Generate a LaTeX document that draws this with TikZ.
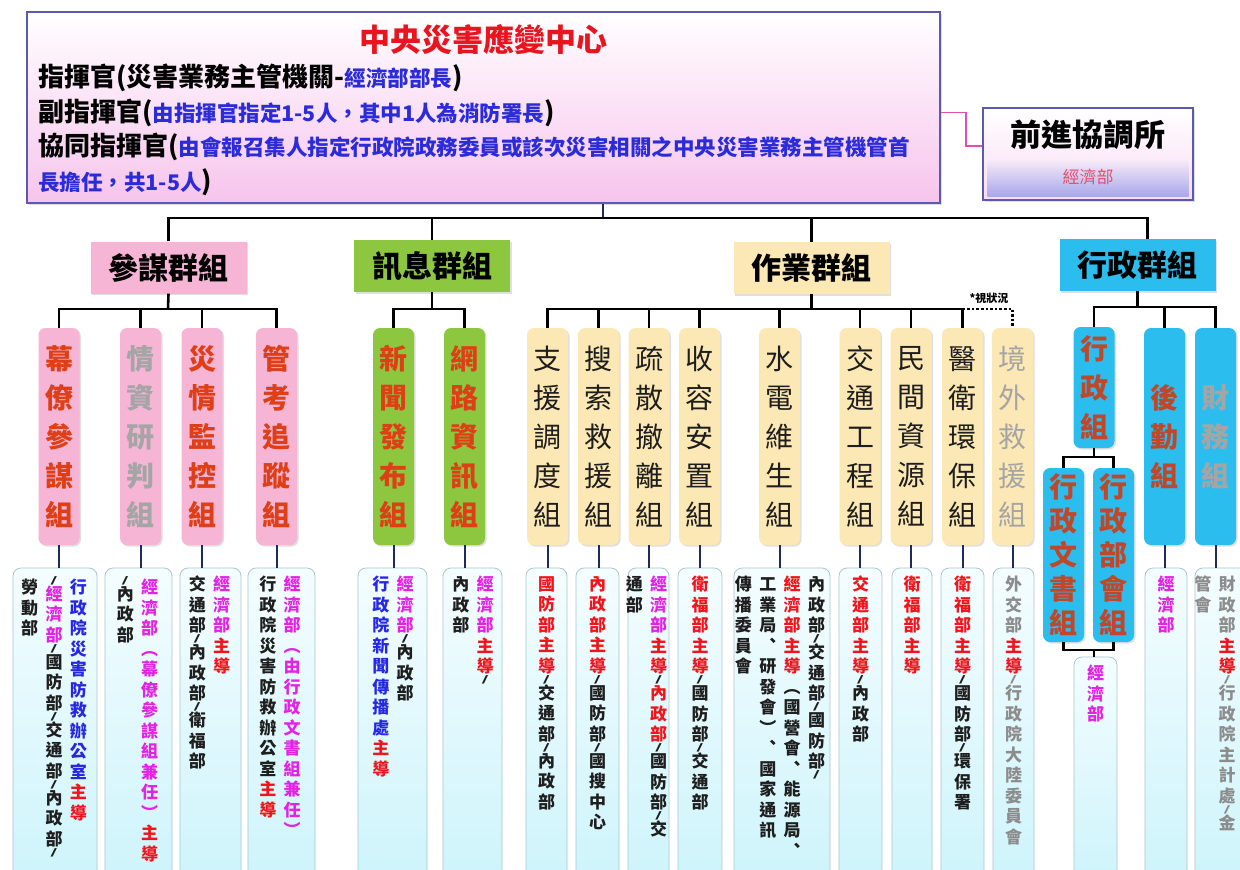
\documentclass[tikz,border=0pt]{standalone}
\usepackage{fontspec}
\usepackage{graphicx}
\setmainfont{Noto Sans CJK TC}
\usetikzlibrary{shadows}
\definecolor{cmdred}{HTML}{E8141E}
\definecolor{cmdblue}{HTML}{2B2BD9}
\definecolor{cmdline}{HTML}{5A5AAE}
\definecolor{cmdbot}{HTML}{F6C4EC}
\definecolor{fwdpink}{HTML}{E64FA9}
\definecolor{fwdband}{HTML}{A8A8EA}
\definecolor{fwdtext}{HTML}{E2506B}
\definecolor{stafpink}{HTML}{F7B5D6}
\definecolor{infogreen}{HTML}{8DC63F}
\definecolor{opsyellow}{HTML}{FCE8B4}
\definecolor{admcyan}{HTML}{2BBDEE}
\definecolor{subred}{HTML}{DE3F16}
\definecolor{admred}{HTML}{C0482A}
\definecolor{greytext}{HTML}{A5A5A5}
\definecolor{legnavy}{HTML}{1D2B5E}
\definecolor{lowtop}{HTML}{F4FDFF}
\definecolor{lowbot}{HTML}{CDF4FB}
\definecolor{lowline}{HTML}{A9C6CC}
\definecolor{listmag}{HTML}{E322E3}
\definecolor{listred}{HTML}{F2141B}
\definecolor{listblue}{HTML}{2626E6}
\definecolor{listink}{HTML}{1E1E1E}
\definecolor{listgray}{HTML}{8C8C8C}

\makeatletter
\def\vs@slash{/}
\newcommand\vs@box[1]{\hbox to 1.05em{\hss\textcolor{#1}{\vs@ch}\hss}}
% a slash in a vertical column: flat, and taking little room
\newcommand\vs@slashbox[1]{\hbox to 1.05em{\hss\raisebox{10.5pt}{\textcolor{#1}{\scalebox{1.1}[0.5]{/}}}\hss}\kern-14pt}
\newcommand\vseg[2]{\@tfor\vs@ch:=#2\do{\ifx\vs@ch\vs@slash\vs@slashbox{#1}\else\vs@box{#1}\fi}}
\makeatother
\newcommand\vcol[1]{\vtop{\baselineskip=20.5pt\lineskiplimit=-100pt\relax #1}}
\newcommand\vname[2][39pt]{\vbox{\baselineskip=#1\lineskiplimit=-100pt\relax\vseg{.}{#2}}}
\newcommand\colgap{\hskip6.5pt}
\newcommand\cmdbig{\fontsize{26}{26}\selectfont\bfseries}
\newcommand\cmdsmall{\fontsize{21.5}{21.5}\selectfont\color{cmdblue}}

\begin{document}
\begin{tikzpicture}[x=1pt, y=-1pt,
    grpbox/.style={rectangle, minimum width=156, minimum height=52, inner sep=0pt, font=\fontsize{30}{30}\selectfont\bfseries, drop shadow={shadow xshift=1.5pt, shadow yshift=-1.5pt, opacity=0.25}},
    subbox/.style={rectangle, rounded corners=7pt, minimum width=41, minimum height=217, inner sep=0pt, font=\fontsize{28}{28}\selectfont\bfseries, drop shadow={shadow xshift=1.5pt, shadow yshift=-1.5pt, opacity=0.25}},
    opsbox/.style={subbox, fill=opsyellow, text=listink, font=\fontsize{28}{28}\selectfont},
    lowbox/.style={rectangle, rounded corners=8pt, draw=lowline, line width=0.8pt, top color=lowtop, bottom color=lowbot, minimum height=314, inner sep=0pt},
    lowtxt/.style={anchor=north, inner sep=0pt, font=\fontsize{17}{17}\selectfont\bfseries},
    busline/.style={line width=2.6pt},
    legline/.style={line width=2pt, draw=legnavy}]
  \useasboundingbox (0,0) rectangle (1240,870);
  \clip (0,0) rectangle (1240,870);
  \fill[white] (0,0) rectangle (1240,870);

  % command centre
  \node[rectangle, draw=cmdline, line width=1.5pt, top color=white, bottom color=cmdbot, minimum width=913, minimum height=191, drop shadow={shadow xshift=1.5pt, shadow yshift=-2pt, opacity=0.25}] (cmd) at (483.5,107.5) {};
  \node[font=\fontsize{31}{31}\selectfont\bfseries, text=cmdred] (cmdtitle) at (483,40) {中央災害應變中心};
  \node[anchor=west, inner sep=0pt] (cmdl1) at (38,78) {\cmdbig 指揮官(災害業務主管機關-{\cmdsmall 經濟部部長})};
  \node[anchor=west, inner sep=0pt] (cmdl2) at (38,113) {\cmdbig 副指揮官({\cmdsmall 由指揮官指定1-5人，其中1人為消防署長})};
  \node[anchor=west, inner sep=0pt] (cmdl3) at (38,147) {\cmdbig 協同指揮官({\cmdsmall 由會報召集人指定行政院政務委員或該次災害相關之中央災害業務主管機管首}};
  \node[anchor=west, inner sep=0pt] (cmdl4) at (38,182) {{\cmdsmall\bfseries 長擔任，共1-5人}\cmdbig )};

  % forward post
  \node[rectangle, draw=cmdline, line width=1.5pt, top color=white, bottom color=cmdbot!60, minimum width=210, minimum height=92, drop shadow={shadow xshift=1.5pt, shadow yshift=-2pt, opacity=0.25}] (fwd) at (1088,154) {};
  \node[font=\fontsize{31}{31}\selectfont\bfseries] (fwdtitle) at (1088,135) {前進協調所};
  \node[rectangle, top color=cmdbot!30, bottom color=fwdband, minimum width=201, minimum height=38, text=fwdtext, font=\fontsize{17}{17}\selectfont] (fwdunit) at (1088,177) {經濟部};
  \draw[fwdpink, line width=1.5pt] ([yshift=-5pt]cmd.east) -- ++(25,0) |- ([yshift=8pt]fwd.west);

  % groups
  \node[grpbox, fill=stafpink] (staff) at (168.5,267.5) {參謀群組};
  \node[grpbox, fill=infogreen] (info) at (432,266) {訊息群組};
  \node[grpbox, fill=opsyellow] (ops) at (811.5,268) {作業群組};
  \node[grpbox, fill=admcyan] (adm) at (1137.5,265) {行政群組};
  \coordinate (mainbus) at (603,218);
  \draw[legline, line width=1.5pt] (cmd.south -| mainbus) -- (mainbus);
  \draw[busline] (staff.north) |- (mainbus) -| ([xshift=10pt]adm.north);
  \draw[busline] (info.north) -- (info.north |- mainbus);
  \draw[busline] (ops.north) -- (ops.north |- mainbus);

  % staff subgroups
  \node[subbox, fill=stafpink, text=subred] (muliao) at (59,436.5) {\vname{幕僚參謀組}};
  \node[subbox, fill=stafpink, text=greytext] (qingzi) at (140.5,436.5) {\vname{情資研判組}};
  \node[subbox, fill=stafpink, text=subred] (zaiqing) at (202,436.5) {\vname{災情監控組}};
  \node[subbox, fill=stafpink, text=subred] (guankao) at (276.5,436.5) {\vname{管考追蹤組}};
  \coordinate (staffbus) at (168,309);
  \draw[busline] (staff.south) -- (staffbus);
  \draw[busline] (muliao.north) |- (staffbus) -| (guankao.north);
  \draw[busline] (qingzi.north) -- (qingzi.north |- staffbus);
  \draw[busline] (zaiqing.north) -- (zaiqing.north |- staffbus);

  % info subgroups
  \node[subbox, fill=infogreen, text=subred] (xinwen) at (393.5,436.5) {\vname{新聞發布組}};
  \node[subbox, fill=infogreen, text=subred] (wanglu) at (464.5,436.5) {\vname{網路資訊組}};
  \coordinate (infobus) at (432,309);
  \draw[busline] (info.south) -- (infobus);
  \draw[busline] (xinwen.north) |- (infobus) -| (wanglu.north);

  % operation subgroups
  \node[opsbox] (zhiyuan) at (547.5,436.5) {\vname{支援調度組}};
  \node[opsbox] (sousuo) at (598.5,436.5) {\vname{搜索救援組}};
  \node[opsbox] (shusan) at (649,436.5) {\vname{疏散撤離組}};
  \node[opsbox] (shourong) at (699.5,436.5) {\vname{收容安置組}};
  \node[opsbox] (shuidian) at (779.5,436.5) {\vname{水電維生組}};
  \node[opsbox] (jiaotong) at (860,436.5) {\vname{交通工程組}};
  \node[opsbox] (minjian) at (911,436.5) {\vname{民間資源組}};
  \node[opsbox] (yiwei) at (962.5,436.5) {\vname{醫衛環保組}};
  \node[opsbox, text=greytext] (jingwai) at (1012.5,436.5) {\vname{境外救援組}};
  \coordinate (opsbus) at (811.5,309);
  \draw[busline] (ops.south) -- (opsbus);
  \draw[busline] (zhiyuan.north) |- (opsbus) -| (yiwei.north);
  \foreach \n in {sousuo, shusan, shourong, shuidian, jiaotong, minjian}
    \draw[busline] (\n.north) -- (\n.north |- opsbus);
  \draw[line width=2.6pt, dotted] (yiwei.north |- opsbus) -| (jingwai.north);
  \node[font=\fontsize{11}{11}\selectfont\bfseries, inner sep=0pt] (asneeded) at (989,298) {*視狀況};

  % admin subgroups
  \node[subbox, fill=admcyan, text=admred, minimum height=121] (xingzheng) at (1094,387.5) {\vname{行政組}};
  \node[subbox, fill=admcyan, text=admred] (houqin) at (1164.5,436.5) {\vname{後勤組}};
  \node[subbox, fill=admcyan, text=greytext] (caiwu) at (1215.5,436.5) {\vname{財務組}};
  \node[subbox, fill=admcyan, text=admred, minimum height=174] (wenshu) at (1063.5,555) {\vname[34pt]{行政文書組}};
  \node[subbox, fill=admcyan, text=admred, minimum height=174] (buhui) at (1113.5,555) {\vname[34pt]{行政部會組}};
  \coordinate (admbus) at (1137.5,307);
  \draw[busline] (adm.south) -- (admbus);
  \draw[busline] (xingzheng.north) |- (admbus) -| (caiwu.north);
  \draw[busline] (houqin.north) -- (houqin.north |- admbus);
  \coordinate (admtop) at (1094,457);
  \draw[busline, line width=2.2pt] (xingzheng.south) -- (admtop);
  \draw[busline, line width=2.2pt] (wenshu.north) |- (admtop) -| (buhui.north);

  % lists of agencies
  \node[lowbox, minimum width=84] (muliaolist) at (55,725) {};
  \node[lowbox, minimum width=67] (qingzilist) at (138.5,725) {};
  \node[lowbox, minimum width=61] (zaiqinglist) at (210.5,725) {};
  \node[lowbox, minimum width=67] (guankaolist) at (281.5,725) {};
  \node[lowbox, minimum width=69] (xinwenlist) at (392.5,725) {};
  \node[lowbox, minimum width=59] (wanglulist) at (472.5,725) {};
  \node[lowbox, minimum width=41] (zhiyuanlist) at (546.5,725) {};
  \node[lowbox, minimum width=43] (sousuolist) at (597.5,725) {};
  \node[lowbox, minimum width=41] (shusanlist) at (648.5,725) {};
  \node[lowbox, minimum width=44] (shouronglist) at (700,725) {};
  \node[lowbox, minimum width=96] (shuidianlist) at (782,725) {};
  \node[lowbox, minimum width=43] (jiaotonglist) at (860.5,725) {};
  \node[lowbox, minimum width=40] (minjianlist) at (912,725) {};
  \node[lowbox, minimum width=43] (yiweilist) at (962.5,725) {};
  \node[lowbox, minimum width=41] (jingwailist) at (1013.5,725) {};
  \node[lowbox, minimum width=43, minimum height=225] (jjblist) at (1095.5,769.5) {};
  \node[lowbox, minimum width=42] (houqinlist) at (1166,725) {};
  \node[lowbox, minimum width=55] (caiwulist) at (1222.5,725) {};

  \foreach \n in {muliao, qingzi, zaiqing, guankao, xinwen, wanglu, zhiyuan, sousuo, shusan, shourong, shuidian, jiaotong, minjian, yiwei, jingwai, houqin, caiwu}
    \draw[legline] (\n.south) -- (\n.south |- \n list.north);
  \coordinate (admbot) at (1094,650);
  \draw[busline, line width=2.2pt] (wenshu.south) |- (admbot) -| (buhui.south);
  \draw[busline, line width=2.2pt] (admbot) -- (admbot |- jjblist.north);

  \node[lowtxt] (muliaotext) at (54,576) {\hbox{\vcol{\vseg{listink}{勞動部}}\colgap\vcol{\vseg{listink}{/}\vseg{listmag}{經濟部}\vseg{listink}{/國防部/交通部/內政部/}}\colgap\vcol{\vseg{listblue}{行政院災害防救辦公室}\vseg{listred}{主導}}}};
  \node[lowtxt] (qingzitext) at (137.5,576) {\hbox{\vcol{\vseg{listink}{/內政部}}\colgap\vcol{\vseg{listmag}{經濟部︵幕僚參謀組兼任︶}\vseg{listred}{主導}}}};
  \node[lowtxt] (zaiqingtext) at (209.5,576) {\hbox{\vcol{\vseg{listink}{交通部/內政部/衛福部}}\colgap\vcol{\vseg{listmag}{經濟部}\vseg{listred}{主導}}}};
  \node[lowtxt] (guankaotext) at (280,576) {\hbox{\vcol{\vseg{listink}{行政院災害防救辦公室}\vseg{listred}{主導}}\colgap\vcol{\vseg{listmag}{經濟部︵由行政文書組兼任︶}}}};
  \node[lowtxt] (xinwentext) at (393,576) {\hbox{\vcol{\vseg{listblue}{行政院新聞傳播處}\vseg{listred}{主導}}\colgap\vcol{\vseg{listmag}{經濟部}\vseg{listink}{/內政部}}}};
  \node[lowtxt] (wanglutext) at (473,576) {\hbox{\vcol{\vseg{listink}{內政部}}\colgap\vcol{\vseg{listmag}{經濟部}\vseg{listred}{主導}\vseg{listink}{/}}}};
  \node[lowtxt] (zhiyuantext) at (546.5,576) {\vcol{\vseg{listred}{國防部主導}\vseg{listink}{/交通部/內政部}}};
  \node[lowtxt] (sousuotext) at (597.5,576) {\vcol{\vseg{listred}{內政部主導}\vseg{listink}{/國防部/國搜中心}}};
  \node[lowtxt] (shusantext) at (646.5,576) {\hbox{\vcol{\vseg{listink}{通部}}\colgap\vcol{\vseg{listmag}{經濟部}\vseg{listred}{主導}\vseg{listink}{/}\vseg{listred}{內政部}\vseg{listink}{/國防部/交}}}};
  \node[lowtxt] (shourongtext) at (700,576) {\vcol{\vseg{listred}{衛福部主導}\vseg{listink}{/國防部/交通部}}};
  \node[lowtxt] (shuidiantext) at (780,576) {\hbox{\vcol{\vseg{listink}{傳播委員會}}\colgap\vcol{\vseg{listink}{工業局︑研發會︶︑國家通訊}}\colgap\vcol{\vseg{listred}{經濟部主導}\vseg{listink}{︵國營會︑能源局︑}}\colgap\vcol{\vseg{listink}{內政部/交通部/國防部/}}}};
  \node[lowtxt] (jiaotongtext) at (860.5,576) {\vcol{\vseg{listred}{交通部主導}\vseg{listink}{/內政部}}};
  \node[lowtxt] (minjiantext) at (912,576) {\vcol{\vseg{listred}{衛福部主導}}};
  \node[lowtxt] (yiweitext) at (962.5,576) {\vcol{\vseg{listred}{衛福部主導}\vseg{listink}{/國防部/環保署}}};
  \node[lowtxt] (jingwaitext) at (1013.5,576) {\vcol{\vseg{listgray}{外交部}\vseg{listred}{主導}\vseg{listgray}{/行政院大陸委員會}}};
  \node[lowtxt] (jjbtext) at (1095.5,665) {\vcol{\vseg{listmag}{經濟部}}};
  \node[lowtxt] (houqintext) at (1166,576) {\vcol{\vseg{listmag}{經濟部}}};
  \node[lowtxt] (caiwutext) at (1215,576) {\hbox{\vcol{\vseg{listgray}{管會}}\colgap\vcol{\vseg{listgray}{財政部}\vseg{listred}{主導}\vseg{listgray}{/行政院主計處/金}}}};
\end{tikzpicture}
\end{document}
